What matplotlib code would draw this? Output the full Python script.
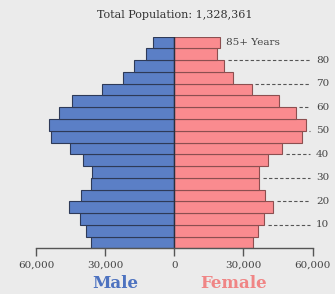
import numpy as np
import matplotlib
matplotlib.use('Agg')
import matplotlib.pyplot as plt

# age groups from 0-4 up to 85+
age_starts = list(range(0, 90, 5))
male = [35950, 38480, 41000, 45650, 40300, 35950, 35650, 39430, 45350,
        53350, 54200, 50220, 44570, 31440, 22170, 17260, 12300, 9430]
female = [34350, 36520, 39000, 43040, 39350, 36830, 36600, 40870, 46830,
          55350, 57100, 52830, 45650, 33600, 25650, 21740, 18570, 20000]
tick_vals = [-60000, -30000, 0, 30000, 60000]
tick_labels = ['60,000', '30,000', '0', '30,000', '60,000']
age_marks = [10, 20, 30, 40, 50, 60, 70, 80]
total_pop = 1328361

bg = '#ebebeb'
blue = '#5b7fc6'
pink = '#fa8b8f'
serif = ['DejaVu Serif']

fig = plt.figure(figsize=(3.35, 2.94), dpi=100, facecolor=bg)
ax = fig.add_axes([36 / 335, 1 - 248.3 / 294, (312.5 - 36) / 335, (248.3 - 36.7) / 294])
ax.set_facecolor(bg)

ax.barh(age_starts, [-m for m in male], height=5, align='edge',
        color=blue, edgecolor='#2e3a58', linewidth=0.8)
ax.barh(age_starts, female, height=5, align='edge',
        color=pink, edgecolor='#8c4f50', linewidth=0.8)
ax.plot([0, 0], [0, 90], color='#2a3040', lw=1.0)

# dashed age guides on the right
for a in age_marks:
    i = a // 5
    start = max(female[i - 1], female[i]) + 1500
    ax.plot([start, 59000], [a, a], color='#555555', lw=0.8,
            dashes=(3, 2), clip_on=False)
    ax.text(61500, a, str(a), fontsize=7.5, family=serif, color='#444444',
            va='center', ha='left', clip_on=False)
ax.text(female[-1] + 2500, 87.5, '85+ Years', fontsize=7.5, family=serif,
        color='#444444', va='center', ha='left')

ax.set_xlim(-60000, 60000)
ax.set_ylim(0, 90)
for s in ['top', 'left', 'right']:
    ax.spines[s].set_visible(False)
ax.spines['bottom'].set_color('#555555')
ax.spines['bottom'].set_linewidth(1.0)
ax.set_yticks([])
ax.set_xticks(tick_vals)
ax.set_xticklabels(tick_labels, family=serif, fontsize=7.5, color='#444444')
ax.tick_params(axis='x', direction='out', length=6, width=1.0,
               color='#555555', pad=3)

fig.text(175 / 335, 1 - 15 / 294, 'Total Population: {:,}'.format(total_pop),
         ha='center', va='center', fontsize=8, family=serif, color='#333333')
fig.text(115 / 335, 1 - 284 / 294, 'Male', ha='center', va='center',
         fontsize=12, fontweight='bold', family=serif, color='#4d72c0')
fig.text(234 / 335, 1 - 284 / 294, 'Female', ha='center', va='center',
         fontsize=12, fontweight='bold', family=serif, color='#f08585')

fig.savefig('out.png', dpi=100, facecolor=bg)
